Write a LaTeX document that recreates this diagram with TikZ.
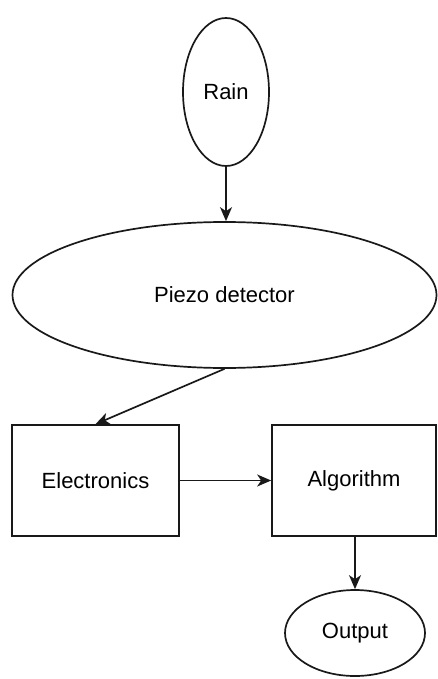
\documentclass[tikz,border=0pt]{standalone}
\usepackage{fontspec}
\setmainfont{Liberation Sans}
\usetikzlibrary{shapes.geometric,arrows.meta}
\begin{document}
\begin{tikzpicture}[x=1pt,y=-1pt,
  every node/.style={font=\fontsize{22}{26}\selectfont, line width=1.7pt, draw=black!90, inner sep=0pt},
  oval/.style={ellipse},
  box/.style={rectangle},
  conn/.style={line width=1.7pt, draw=black!90, -{Stealth[length=14pt,width=12pt,inset=4pt]}}]
\useasboundingbox (0,0) rectangle (437,679);
\node[oval, minimum width=86, minimum height=148] (rain) at (226,92) {Rain};
\node[oval, minimum width=424, minimum height=146] (piezo) at (224.5,295) {Piezo detector};
\node[box, minimum width=167, minimum height=111] (elec) at (95.5,480.5) {Electronics};
\node[box, minimum width=164, minimum height=111] (algo) at (354,480.5) {Algorithm};
\node[oval, minimum width=140, minimum height=86] (out) at (355,633) {Output};
\draw[conn] (rain.south) -- (rain.south |- piezo.north);
\draw[conn] (piezo.south) -- (elec.north);
\draw[conn] (elec.east) -- (algo.west);
\draw[conn] (out.north |- algo.south) -- (out.north);
\end{tikzpicture}
\end{document}
